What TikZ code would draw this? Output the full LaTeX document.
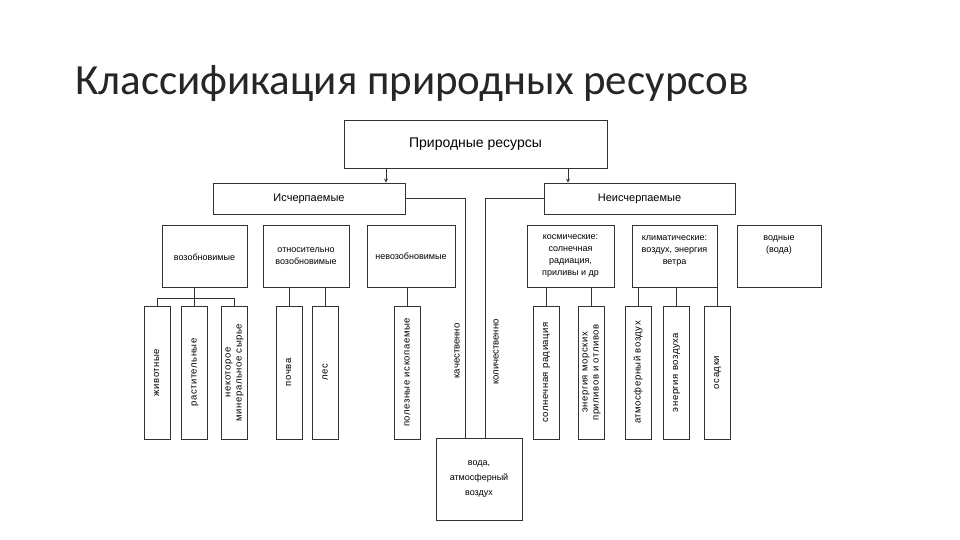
\documentclass[tikz,border=0pt]{standalone}
\usepackage{fontspec}
\setmainfont{Liberation Sans}
\newfontfamily\titlefont{Carlito}
\newfontfamily\vfont[LetterSpace=6]{Liberation Sans}
\newcommand{\vtext}[1]{\rotatebox{90}{\begin{tabular}{@{}c@{}}#1\end{tabular}}}

\begin{document}
\begin{tikzpicture}[x=1pt,y=-1pt,>=stealth,
    box/.style={draw=black!80,line width=0.8pt,align=center,inner sep=2pt,font=\fontsize{9}{12}\selectfont},
    vbox/.style={draw=black!80,line width=0.8pt,minimum width=26pt,minimum height=133pt,inner sep=0pt,font=\vfont\fontsize{9.5}{11}\selectfont},
    line/.style={draw=black!80,line width=0.8pt}]
          \useasboundingbox (0,0) rectangle (960,540);
          \node[anchor=base west,inner sep=0pt,text=black!85,font=\titlefont\fontsize{43}{50}\selectfont] (title) at (75,95) {Классификация природных ресурсов};
          % top levels
          \node[box,minimum width=263pt,minimum height=48pt,font=\fontsize{14}{16}\selectfont] (res) at (475.5,144) {Природные ресурсы};
          \node[box,minimum width=192pt,minimum height=31pt,font=\fontsize{11}{13}\selectfont] (isch) at (309,198.5) {Исчерпаемые};
          \node[box,minimum width=191pt,minimum height=31pt,font=\fontsize{11}{13}\selectfont] (neisch) at (639.5,198.5) {Неисчерпаемые};
          % second level
          \node[box,minimum width=85pt,minimum height=62pt] (vozob) at (204.5,256) {\\[-2pt]возобновимые};
          \node[box,minimum width=86pt,minimum height=62pt] (otn) at (306,256) {относительно\\возобновимые};
          \node[box,minimum width=88pt,minimum height=62pt] (nevoz) at (411,256) {невозобновимые};
          \node[box,minimum width=87pt,minimum height=62pt] (kosm) at (570.5,256) {космические:\\солнечная\\радиация,\\приливы и др};
          \node[box,minimum width=85pt,minimum height=62pt] (klim) at (674.5,256) {климатические:\\воздух, энергия\\ветра\\~};
          \node[box,minimum width=84pt,minimum height=62pt] (vodn) at (779,256) {водные\\(вода)\\~\\~};
          % third level
          \node[vbox] (zhiv) at (157,372.5) {\vtext{животные}};
          \node[vbox] (rast) at (194.5,372.5) {\vtext{растительные}};
          \node[vbox] (miner) at (234,372.5) {\vtext{некоторое\\минеральное сырье}};
          \node[vbox] (pochva) at (289,372.5) {\vtext{почва}};
          \node[vbox] (les) at (325.5,372.5) {\vtext{лес}};
          \node[vbox] (polez) at (407.5,372.5) {\vtext{полезные ископаемые}};
          \node[vbox] (soln) at (546,372.5) {\vtext{солнечная радиация}};
          \node[vbox] (energ) at (591,372.5) {\vtext{энергия морских\\приливов и отливов}};
          \node[vbox] (atm) at (638.5,372.5) {\vtext{атмосферный воздух}};
          \node[vbox] (envoz) at (676,372.5) {\vtext{энергия воздуха}};
          \node[vbox] (osad) at (717,372.5) {\vtext{осадки}};
          \node[box,minimum width=86pt,minimum height=82pt,font=\fontsize{9}{15}\selectfont] (voda) at (479,479) {вода,\\атмосферный\\воздух};
          \node[rotate=90,font=\fontsize{9.5}{11}\selectfont] (kach) at (457,351) {качественно};
          \node[rotate=90,font=\fontsize{9.5}{11}\selectfont] (kol) at (496,352) {количественно};
          % connectors
          \draw[line,->] ([xshift=77pt]isch.north |- res.south) -- ([xshift=77pt]isch.north);
          \draw[line,->] ([xshift=-71.5pt]neisch.north |- res.south) -- ([xshift=-71.5pt]neisch.north);
          \draw[line] (isch.east) -| ([xshift=-14pt]voda.north);
          \draw[line] (neisch.west) -| ([xshift=6pt]voda.north);
          \coordinate (bus) at (0,298);
          \draw[line] (vozob.south -| rast.north) -- (rast.north);
          \draw[line] (zhiv.north) |- (bus -| miner.north) -- (miner.north);
          \foreach \a/\b in {otn/pochva,otn/les,nevoz/polez,kosm/soln,kosm/energ,klim/atm,klim/envoz,klim/osad}
            \draw[line] (\a.south -| \b.north) -- (\b.north);
        \end{tikzpicture}
\end{document}
